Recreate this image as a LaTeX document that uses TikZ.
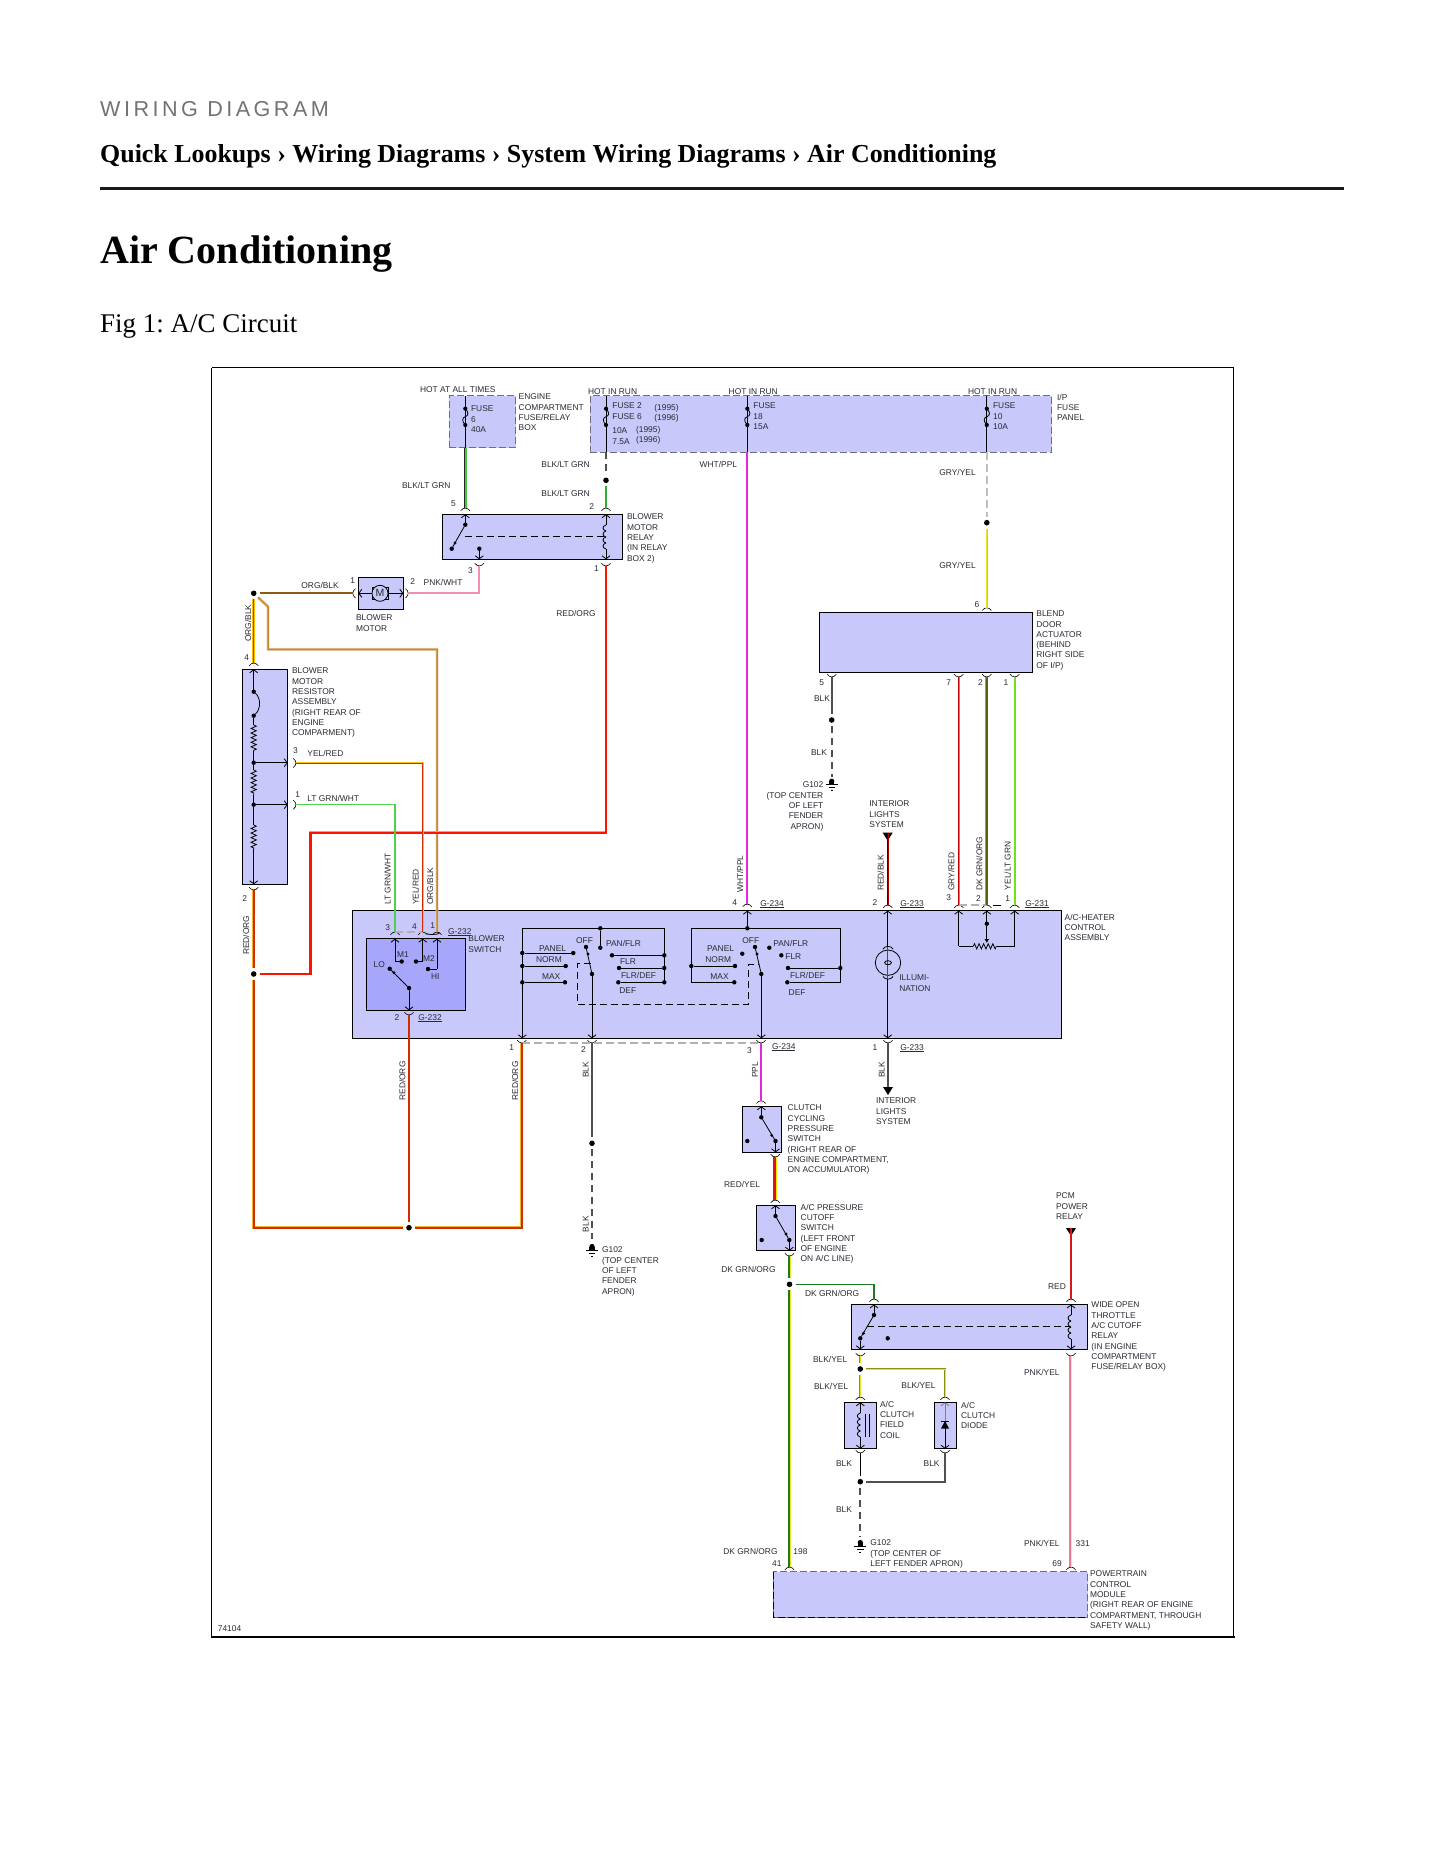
\documentclass[tikz,border=0pt]{standalone}
\usepackage{fontspec}
\setmainfont{Liberation Serif}
\newfontfamily\diagfont{Liberation Sans}
\newfontfamily\kickerfont[LetterSpace=16]{Liberation Sans}
\usetikzlibrary{arrows.meta,fit,decorations.pathmorphing}
\definecolor{boxblue}{HTML}{C8C8FA}
\definecolor{swblue}{HTML}{A6A6FA}
\definecolor{inkgray}{HTML}{2A2A33}
\definecolor{dashgray}{HTML}{6E6E80}
\definecolor{wblack}{HTML}{505050}
\definecolor{wgreen}{HTML}{3CCB3C}
\definecolor{wdkgrn}{HTML}{1E7A1E}
\definecolor{wred}{HTML}{D81818}
\definecolor{wredcore}{HTML}{D02C00}
\definecolor{worange}{HTML}{F4A830}
\definecolor{wbrown}{HTML}{8B5A14}
\definecolor{wtan}{HTML}{C8862C}
\definecolor{wpink}{HTML}{F090B0}
\definecolor{wmag}{HTML}{E028E0}
\definecolor{wyellow}{HTML}{E8E428}
\definecolor{wolive}{HTML}{5F5F14}
\definecolor{wlime}{HTML}{70E020}
\tikzset{
  lbl/.style={font=\diagfont\fontsize{8.4}{10.3}\selectfont, text=inkgray, align=left,
    inner sep=0pt, outer sep=0pt, anchor=north west, execute at begin node={\rule{0pt}{6pt}}},
  lblr/.style={font=\diagfont\fontsize{8.4}{10.3}\selectfont, text=inkgray,
    inner sep=0pt, outer sep=0pt, anchor=center, rotate=90},
  modbox/.style={draw=black, fill=boxblue, line width=.9pt, inner sep=0pt, outer sep=0pt},
  dashbox/.style={draw=dashgray, fill=boxblue, line width=1pt, inner sep=0pt, outer sep=0pt,
    dash pattern=on 7pt off 3pt},
  splice/.style={circle, fill=black, inner sep=0pt, minimum size=5.6pt, outer sep=3.2pt},
  cdot/.style={circle, fill=black, inner sep=0pt, minimum size=4.4pt, outer sep=0pt},
  markdot/.style={circle, fill=black, inner sep=0pt, minimum size=3.2pt, outer sep=0pt},
  thinw/.style={line width=.8pt, black},
  tip/.style={thinw, -{Straight Barb[length=3pt,width=8pt]}},
  lnk/.style={thinw, dash pattern=on 7pt off 4pt},
  blkdash/.style={wblack, line width=1.8pt, dash pattern=on 7pt off 5pt},
  graydash/.style={black!30, line width=1.1pt, dash pattern=on 8pt off 4pt},
  wblk/.style={wblack, line width=2.2pt},
  zig/.style={thinw, decorate, decoration={zigzag, amplitude=2.6pt, segment length=4.6pt}},
  pinarc/.pic={\draw[line width=.6pt, black] (-4.6,2.8) .. controls (-2,-.8) and (2,-.8) .. (4.6,2.8);},
  fuse/.pic={
    \fill (0,0) circle (2.1) (0,16.3) circle (2.1);
    \draw[thinw] (0,0) .. controls (4,4) and (3,7) .. (0,8) .. controls (-3,9) and (-4,12) .. (0,16.3);},
  coilv/.pic={
    \foreach \k in {0,1,2,3} {
      \draw[thinw] (0,\k*6) .. controls (-4,\k*6+1) and (-4,\k*6+5) .. (0,\k*6+6);
    }},
  gndsym/.pic={
    \fill (0,-1.5) circle (2.6);
    \fill (-2.6,-1.5) rectangle (2.6,1.5);
    \draw[thinw] (-6,2) -- (6,2) (-3.2,5) -- (3.2,5) (-1,8) -- (1,8);},
  wedge/.pic={\fill (-5,0) -- (5,0) -- (0,8) -- cycle;}
}
\newcommand{\wire}[4][]{\draw[line width=2.9pt, #2] #4; \draw[line width=1.5pt, #3, #1] #4;}
\newcommand{\wirethin}[3]{\draw[line width=2.2pt, #1] #3; \draw[line width=.9pt, #2] #3;}
\begin{document}
\frenchspacing
\begin{tikzpicture}[x=1pt, y=-1pt]
  \useasboundingbox (0,0) rectangle (1445,1870);
  \fill[white] (0,0) rectangle (1445,1870);

  \node[anchor=base west, inner sep=0pt, text=black!55] (kicker) at (100,117) {\kickerfont\fontsize{21.6}{24}\selectfont WIRING DIAGRAM};
  \node[anchor=base west, inner sep=0pt] (crumbs) at (100,162.5) {\fontsize{25.9}{30}\selectfont\bfseries Quick Lookups › Wiring Diagrams › System Wiring Diagrams › Air Conditioning};
  \coordinate (ruleL) at (100,188.5);
  \coordinate (ruleR) at (1344,188.5);
  \draw[line width=3.4pt, black!90] (ruleL) -- (ruleR);
  \node[anchor=base west, inner sep=0pt] (pagetitle) at (100,263.5) {\fontsize{40}{44}\selectfont\bfseries Air Conditioning};
  \node[anchor=base west, inner sep=0pt] (figcap) at (100,332.5) {\fontsize{27}{30}\selectfont Fig 1: A/C Circuit};

  \draw[line width=.9pt] (211.5,367.5) -- (1233.5,367.5) -- (1233.5,1636.7);
  \draw[line width=.9pt] (211.5,367.5) -- (211.5,1636.7);
  \draw[line width=2pt] (211,1636.7) -- (1234.5,1636.7);

  \node[dashbox, fit={(449.3,395.7) (515.7,447.7)}] (fbE) {};
  \node[dashbox, fit={(590.3,395.7) (1051.7,452.3)}] (fbI) {};
  \node[modbox, fit={(442.3,514.3) (622.3,559.3)}] (relay) {};
  \node[modbox, fit={(358.3,577.3) (403.3,609.3)}] (bmotor) {};
  \node[modbox, fit={(242.3,669.3) (287.7,884.3)}] (resist) {};
  \node[modbox, fit={(819.3,612.3) (1032.7,672.3)}] (blend) {};
  \node[modbox, fit={(352.7,910.7) (1061.3,1038.3)}] (ctl) {};
  \node[modbox, fill=swblue, fit={(366.7,938.7) (465.7,1010.3)}] (bsw) {};
  \node[modbox, fit={(742.3,1106.3) (781.7,1152.3)}] (clsw) {};
  \node[modbox, fit={(756.3,1205.3) (795.7,1250.7)}] (cosw) {};
  \node[modbox, fit={(851.3,1304.5) (1087.7,1349.3)}] (wot) {};
  \node[modbox, fit={(844.3,1402.3) (876.7,1448.7)}] (fcoil) {};
  \node[modbox, fit={(934.3,1402.3) (956.7,1448.7)}] (cdiode) {};
  \node[dashbox, fit={(773.7,1571.7) (1087.7,1617.3)}] (pcm) {};
  \draw[line width=.9pt, black, dash pattern=on 7pt off 3pt] (pcm.north west) -- (pcm.south west) -- (pcm.south east);

  \foreach \nm/\x/\y in {
    pRelayF/465.3/508, pRelayG/606/508, pRelayS/479.3/566, pRelayA/606/566,
    pBmL/352.7/593.3, pBmR/408.3/593.3,
    pResT/253.7/663, pResB/253.7/890, pResM/296/763, pResL/296/804.7,
    pSwL/395/932, pSwM/422.7/932, pSwO/437/932, pSwB/409/1015,
    pCtlP/747.3/904, pCtlI/887.7/905, pPotL/958.7/905, pPotM/986.8/905, pPotR/1014.7/905,
    pBlT/986.8/607.7, pBlK/831.7/677, pBlL/958.7/677, pBlM/986.8/677, pBlR/1014.7/677,
    pOutA/521.7/1043, pOutB/592/1043, pOutC/761/1043, pOutD/888/1043,
    pClT/761/1100.7, pClB/775.3/1157, pCoT/775.3/1200, pCoB/789.5/1256,
    pWotA/874/1299, pWotB/1071/1299, pWotC/860.3/1356, pWotD/1071/1356,
    pFcT/860.3/1397, pFcB/860.3/1453, pDiT/945/1397, pDiB/945/1453,
    pPcmA/789.5/1567, pPcmB/1071/1567,
    fuseY/0/408.7, cObA/268/606.7, cObB/268/649.3, cRoA/310.5/832.7,
    gndA/831.7/782.7, gndB/592/1248, gndC/860.3/1544,
    wedgeA/887.7/832.7, wedgeB/888/1087, wedgeC/1071/1228
  } {
    \coordinate (\nm) at (\x,\y);
  }

  \foreach \nm/\x/\y in {
    sRelay/606/480.3, sGry/986.8/522.7, sOrg/253.7/593.3, sRoA/253.7/974, sRoB/409/1227.7,
    sBlkA/831.7/720, sBlkB/592/1143.3, sDkg/789.5/1284.3, sByl/860.3/1369, sBlkC/860.3/1481.7
  } {
    \node[splice] (\nm) at (\x,\y) {};
  }

  \foreach \p in {pRelayF, pRelayG, pCtlP, pCtlI, pPotL, pPotM, pPotR, pBlT, pSwL, pSwM, pSwO,
    pResT, pClT, pCoT, pWotA, pWotB, pFcT, pDiT, pPcmA, pPcmB} {
    \pic at (\p) {pinarc};
  }
  \foreach \p in {pRelayS, pRelayA, pBlK, pBlL, pBlM, pBlR, pSwB, pOutA, pOutB, pOutC, pOutD,
    pResB, pClB, pCoB, pWotC, pWotD, pFcB, pDiB} {
    \pic[rotate=180] at (\p) {pinarc};
  }
  \pic[rotate=90] at (pBmL) {pinarc};
  \pic[rotate=-90] at (pBmR) {pinarc};
  \pic[rotate=-90] at (pResM) {pinarc};
  \pic[rotate=-90] at (pResL) {pinarc};

  \draw[graydash] (pSwL) -- (pSwM);
  \draw[graydash] (pOutA) -- (pOutC);
  \draw[graydash] (pPotL) -- (pPotM);
  \draw[thinw] (pPotM) ++(6,0) -- ++(8,0);
  \draw[thinw] (pSwM) ++(4,1.5) .. controls ++(2,2) and ++(8,2) .. (pSwO);

  \foreach \p/\b in {pRelayF/fbE, pRelayG/fbI, pCtlP/fbI, pBlT/fbI} {
    \draw[thinw, line width=1pt] (\p |- \b.north) -- (\p |- \b.south);
    \pic at (\p |- fuseY) {fuse};
  }

  \wire[transform canvas={xshift=-.7pt}]{wgreen}{black!85}{(pRelayF |- fbE.south) -- (pRelayF)}
  \draw[blkdash] (pRelayG |- fbI.south) -- (sRelay);
  \draw[wgreen!85!black, line width=1.8pt] (sRelay) -- (pRelayG);
  \draw[wmag, line width=1.8pt] (pCtlP |- fbI.south) -- (pCtlP);
  \draw[black!25, line width=2pt, dash pattern=on 8pt off 4pt] (pBlT |- fbI.south) -- (sGry);
  \wirethin{wyellow!90!black}{wyellow}{(sGry) -- (pBlT)}

  \draw[wbrown, line width=1.7pt] (sOrg) -- (pBmL);
  \wire{orange!50!yellow}{wbrown}{(sOrg) -- (pResT)}
  \wire{wtan!40!white}{wtan}{(sOrg) -- (cObA) -- (cObB) -| (pSwO)}
  \draw[wpink, line width=1.8pt] (pBmR) -| (pRelayS);
  \wire[line width=2.1pt]{worange}{red!85!orange}{(sRoA) -| (cRoA) -| (pRelayA)}
  \wire[line width=1.9pt]{worange!85!yellow}{wredcore}{(pResB) -- (sRoA)}
  \wire[line width=1.9pt]{worange!85!yellow}{wredcore}{(sRoA) |- (sRoB)}
  \wire[line width=1.9pt]{worange!85!yellow}{wredcore}{(sRoB) -| (pOutA)}
  \draw[wredcore, line width=2pt] (pSwB) -- (sRoB);
  \wirethin{orange!50!yellow}{wredcore}{(pResM) -| (pSwM)}
  \draw[wgreen!90!white, line width=1.5pt] (pResL) -| (pSwL);

  \draw[wblk] (pBlK) -- (sBlkA);
  \draw[blkdash, shorten >=6pt] (sBlkA) -- (gndA);
  \wirethin{wpink!70!red}{red!75!black}{(pBlL) -- (pPotL)}
  \wire{wyellow!50!wolive}{wolive}{(pBlM) -- (pPotM)}
  \draw[wlime, line width=2.2pt] (pBlR) -- (pPotR);

  \pic at (wedgeA) {wedge};
  \wirethin{red!70!black}{black!70!red}{(wedgeA) -- (pCtlI)}
  \draw[wblk] (pOutB) -- (sBlkB);
  \draw[blkdash, shorten >=9pt] (sBlkB) -- (gndB);
  \draw[wmag, line width=2.6pt] (pOutC) -- (pClT);
  \draw[wblk] (pOutD) -- (wedgeB);
  \pic at (wedgeB) {wedge};

  \wire[transform canvas={xshift=-.7pt},line width=2.4pt]{yellow!90!orange}{wred}{(pClB) -- (pCoT)}
  \wire[transform canvas={xshift=-.5pt}]{wyellow}{wdkgrn}{(pCoB) -- (sDkg)}
  \wire[transform canvas={xshift=-.5pt}]{wyellow}{wdkgrn}{(sDkg) -- (pPcmA)}
  \draw[wdkgrn, line width=1.4pt] (sDkg) -| (pWotA);
  \pic at (wedgeC) {wedge};
  \draw[wred, line width=2.6pt] (wedgeC) -- (pWotB);
  \wire[transform canvas={xshift=-.8pt},line width=2.2pt]{yellow!70!white}{wpink!85!red}{(pWotD) -- (pPcmB)}
  \wirethin{wolive!70!yellow}{wyellow}{(pWotC) -- (sByl)}
  \wirethin{wolive!70!yellow}{wyellow}{(sByl) -- (pFcT)}
  \wirethin{wolive!70!yellow}{wyellow}{(sByl) -| (pDiT)}
  \draw[thinw] (pFcB) -- (sBlkC);
  \draw[wblk] (pDiB) |- (sBlkC);
  \draw[blkdash, shorten >=7pt] (sBlkC) -- (gndC);

  \foreach \g in {gndA, gndB, gndC} {
    \pic at (\g) {gndsym};
  }

  \foreach \nm/\x/\y in {
    dRelayA/465.3/524.7, dRelayB/451.7/548.7, dRelayS/479.3/548.7,
    dFusA/253.7/691.7, dFusB/253.7/715.7, dTapA/253.7/762.7, dTapB/253.7/804.7,
    dSwA/401.7/961.5, dSwB/416/961.5, dSwC/428/969, dSwD/389.7/968.7, dSwE/409/988,
    dCtlT/600.3/928.3, dPanA/600.3/947.7, dPanL/522.3/953, dPanE/573.3/953,
    dNorL/522.3/966, dNorE/565.7/966, dMaxL/522.3/982.3, dMaxE/565/982.3,
    dFlrE/612/955.3, dFlrR/664.3/955.3, dFldE/619/968, dFldR/664.3/968, dDefE/618.3/982.3, dDefR/664.3/982.3,
    dOffA/586/947, dComA/592/974,
    dCtmT/747.3/928.3, dNrmL/691.3/966, dNrmE/735/966, dMxmE/734.3/982.3, dPnlB/742.3/953.7, dPnfB/769.3/947.7,
    dFlrB/781.3/955.3, dFdsE/788/968, dFdsR/840.3/968, dDfbE/787.3/982.3,
    dOffB/755/947, dComB/761.3/974, dPotM/986.8/923.7,
    dClA/761.3/1117.3, dClB/775.5/1141, dClN/747.3/1141,
    dCoA/775.5/1216, dCoB/789.3/1240, dCoN/761.7/1240,
    dWotA/874/1315, dWotB/860.3/1338.3, dWotN/887.7/1338.3
  } {
    \node[cdot] (\nm) at (\x,\y) {};
  }
  \foreach \nm/\x/\y in {
    dRelayM/455/543, dSwM/394/972.7, dMkA/588/954, dMkB/757/954,
    dClM/771.7/1135.3, dCoM/786/1234, dWotM/863.5/1333.3
  } {
    \node[markdot] (\nm) at (\x,\y) {};
  }

  \foreach \a/\b in {dRelayA/dRelayB, dSwD/dSwE, dCtlT/dPanA, dPanL/dPanE, dNorL/dNorE,
    dMaxL/dMaxE, dFlrE/dFlrR, dFldE/dFldR, dDefE/dDefR, dOffA/dComA, dNrmL/dNrmE, dFdsE/dFdsR,
    dOffB/dComB, dClA/dClB, dCoA/dCoB, dWotA/dWotB} {
    \draw[thinw] (\a) -- (\b);
  }

  \draw[tip] (dRelayA) -- (dRelayA |- relay.north);
  \draw[tip] (dRelayS) -- (dRelayS |- relay.south);
  \draw[lnk] (dRelayA |- 0,536.7) -- (pRelayG |- 0,536.7);
  \draw[tip] (pRelayG |- 0,525) -- (pRelayG |- relay.north);
  \draw[tip] (pRelayG |- 0,549) -- (pRelayG |- relay.south);
  \pic at (pRelayG |- 0,525) {coilv};

  \draw[thinw] (372,587.3) rectangle (376,599.3);
  \draw[thinw] (384,587.3) rectangle (388,599.3);
  \node[thinw, draw, circle, fill=boxblue, inner sep=0pt, minimum size=16pt,
    font=\diagfont\fontsize{10.5}{10.5}\selectfont, text=inkgray] (bmM) at (380,593.3) {M};
  \draw[tip] (372,593.3) -- (bmotor.west);
  \draw[tip] (388,593.3) -- (bmotor.east);

  \draw[tip] (dFusA) -- (dFusA |- resist.north);
  \draw[thinw] (dFusA) .. controls (261,698) and (261,709) .. (dFusB);
  \draw[zig] (dFusB |- 0,725) -- (dFusB |- 0,751);
  \draw[thinw] (dFusB) -- (dFusB |- 0,725);
  \draw[thinw] (dTapA) -- (dTapA |- 0,751);
  \draw[zig] (dTapA |- 0,770) -- (dTapA |- 0,795);
  \draw[thinw] (dTapA) -- (dTapA |- 0,770);
  \draw[thinw] (dTapB) -- (dTapB |- 0,795);
  \draw[zig] (dTapB |- 0,825) -- (dTapB |- 0,849);
  \draw[thinw] (dTapB) -- (dTapB |- 0,825);
  \draw[tip] (dTapB |- 0,849) -- (dTapB |- resist.south);
  \draw[tip] (dTapA) -- (resist.east |- dTapA);
  \draw[tip] (dTapB) -- (resist.east |- dTapB);

  \draw[tip] (pSwL |- dSwA) -- (pSwL |- bsw.north);
  \draw[thinw] (dSwA) -- (pSwL |- dSwA);
  \draw[tip] (pSwM |- dSwB) -- (pSwM |- bsw.north);
  \draw[thinw] (dSwB) -- (pSwM |- dSwB);
  \draw[tip] (pSwO |- dSwC) -- (pSwO |- bsw.north);
  \draw[thinw] (dSwC) -- (pSwO |- dSwC);
  \draw[tip] (dSwE) -- (dSwE |- bsw.south);

  \draw[tip] (dDefR) -- (dDefR |- dCtlT) -- (dMaxL |- dCtlT) -- (dMaxL |- ctl.south);
  \draw[tip] (dComA) -- (dComA |- ctl.south);
  \coordinate (lkA) at (590.7,963.3);
  \coordinate (lkB) at (577.3,1004.3);
  \coordinate (lkC) at (748.3,964.3);
  \coordinate (lkD) at (758,964.3);
  \draw[lnk] (lkA) -| (lkB) -| (lkC) -- (lkD);
  \draw[thinw] (dMxmE) -- (dNrmL |- dMxmE) -- (dNrmL |- dCtmT) -- (dFdsR |- dCtmT) -- (dFdsR |- dDfbE) -- (dDfbE);
  \draw[tip] (dComB) -- (dComB |- ctl.south);
  \draw[tip] (dCtmT) -- (dCtmT |- ctl.north);

  \draw[tip] (pCtlI |- 0,946.7) -- (pCtlI |- ctl.north);
  \draw[tip] (pCtlI |- 0,979) -- (pCtlI |- ctl.south);
  \node[thinw, draw, circle, inner sep=0pt, minimum size=25.4pt] (bulb) at (888,962.7) {};
  \draw[thinw] (883,949) .. controls (885,945.5) and (891,945.5) .. (893,949);
  \draw[thinw] (883,976.5) .. controls (885,980) and (891,980) .. (893,976.5);
  \draw[thinw, black!70] (pCtlI |- 0,946.7) -- (pCtlI |- 0,979);
  \draw[thinw] (bulb.center) ellipse (3.4 and 2);

  \draw[tip] (pPotL |- 0,946.3) -- (pPotL |- ctl.north);
  \draw[tip] (pPotR |- 0,946.3) -- (pPotR |- ctl.north);
  \draw[thinw] (pPotL |- 0,946.3) -- (973.3,946.3);
  \draw[thinw] (996.7,946.3) -- (pPotR |- 0,946.3);
  \draw[zig] (973.3,946.3) -- (996.7,946.3);
  \draw[tip] (dPotM) -- (dPotM |- ctl.north);
  \draw[thinw, -{Latex[length=4pt,width=5pt]}] (dPotM) -- (dPotM |- 0,943);

  \draw[tip] (dClA) -- (dClA |- clsw.north);
  \draw[tip] (dClB) -- (dClB |- clsw.south);
  \draw[tip] (dCoA) -- (dCoA |- cosw.north);
  \draw[tip] (dCoB) -- (dCoB |- cosw.south);

  \draw[tip] (dWotA) -- (dWotA |- wot.north);
  \draw[tip] (dWotB) -- (dWotB |- wot.south);
  \draw[lnk] (866.7,1326.3) -- (pWotB |- 0,1326.3);
  \draw[tip] (pWotB |- 0,1315) -- (pWotB |- wot.north);
  \draw[tip] (pWotB |- 0,1339) -- (pWotB |- wot.south);
  \pic at (pWotB |- 0,1315) {coilv};

  \draw[tip] (pFcT |- 0,1413) -- (pFcT |- fcoil.north);
  \draw[tip] (pFcT |- 0,1437) -- (pFcT |- fcoil.south);
  \pic at (pFcT |- 0,1413) {coilv};
  \draw[thinw] (865.7,1414) -- (865.7,1437) (869.7,1414) -- (869.7,1437);
  \draw[tip, black!50] (pDiT |- 0,1422) -- (pDiT |- cdiode.north);
  \draw[tip] (pDiT |- 0,1428) -- (pDiT |- cdiode.south);
  \fill (pDiT |- 0,1421) -- ++(4,7.5) -- ++(-8,0) -- cycle;
  \draw[thinw] (941,1421) -- (949,1421);

  \foreach \x/\y/\txt [count=\i] in {
    419.7/389/{HOT AT ALL TIMES}, 518.3/397/{ENGINE\\COMPARTMENT\\FUSE/RELAY\\BOX},
    470.7/409/{FUSE\\6\\40A}, 587.7/391/{HOT IN RUN}, 612/406/{FUSE 2\\FUSE 6},
    654/407/{(1995)\\(1996)}, 612/431/{10A\\7.5A}, 635.7/429/{(1995)\\(1996)},
    728.3/391/{HOT IN RUN}, 753/406/{FUSE\\18\\15A}, 967.7/391/{HOT IN RUN},
    992.7/406/{FUSE\\10\\10A}, 1056.7/397/{I/P\\FUSE\\PANEL},
    541/464/{BLK/LT GRN}, 541/493/{BLK/LT GRN}, 401.7/485/{BLK/LT GRN}, 699.3/464/{WHT/PPL},
    939/472/{GRY/YEL}, 939/565/{GRY/YEL}, 974.3/604/{6},
    450.7/503/{5}, 589/506.3/{2}, 626.7/517/{BLOWER\\MOTOR\\RELAY\\(IN RELAY\\BOX 2)},
    467.7/570/{3}, 593.7/568/{1}, 301/585/{ORG/BLK}, 350/580/{1}, 410/581.7/{2},
    423.3/582.7/{PNK/WHT}, 355.7/618/{BLOWER\\MOTOR}, 556/613/{RED/ORG}, 244/657.3/{4},
    1036/614/{BLEND\\DOOR\\ACTUATOR\\(BEHIND\\RIGHT SIDE\\OF I/P)},
    291.7/671/{BLOWER\\MOTOR\\RESISTOR\\ASSEMBLY\\(RIGHT REAR OF\\ENGINE\\COMPARMENT)},
    292.7/750/{3}, 295/794/{1}, 307/753/{YEL/RED}, 307/798/{LT GRN/WHT}, 242/898/{2},
    819/682.3/{5}, 813.7/698/{BLK}, 810.7/752/{BLK}, 946/682.7/{7}, 977.7/682.7/{2}, 1003.3/682.7/{1},
    869/804/{INTERIOR\\LIGHTS\\SYSTEM},
    732/902/{4}, 760/903/{\underline{G-234}}, 872.3/902.3/{2}, 900/903/{\underline{G-233}},
    946/897/{3}, 975.7/898/{2}, 1005/898.7/{1}, 1025/903/{\underline{G-231}},
    1064.3/917/{A/C-HEATER\\CONTROL\\ASSEMBLY},
    385/927/{3}, 411.7/926/{4}, 430/925/{1}, 447.7/931/{\underline{G-232}}, 468/939/{BLOWER\\SWITCH},
    396.7/954/{M1}, 422.7/958/{M2}, 373.3/964/{LO}, 430.7/976/{HI},
    394.3/1017/{2}, 418/1017/{\underline{G-232}},
    575.7/940.3/{OFF}, 605.7/943/{PAN/FLR}, 538.7/948/{PANEL}, 535.7/959/{NORM}, 541.7/976/{MAX},
    619.7/961/{FLR}, 620.7/975/{FLR/DEF}, 619/990/{DEF},
    742/940.3/{OFF}, 773/943/{PAN/FLR}, 706.7/948/{PANEL}, 705/959/{NORM}, 710/976/{MAX},
    785/956/{FLR}, 789.7/975/{FLR/DEF}, 788.3/992/{DEF}, 899/978/{ILLUMI-\\NATION},
    509/1047.3/{1}, 580.7/1049/{2}, 746.7/1050/{3}, 771.7/1046/{\underline{G-234}},
    872.3/1047.3/{1}, 900/1047/{\underline{G-233}},
    601.7/1250/{G102\\(TOP CENTER\\OF LEFT\\FENDER\\APRON)},
    875.7/1101/{INTERIOR\\LIGHTS\\SYSTEM},
    787.3/1108/{CLUTCH\\CYCLING\\PRESSURE\\SWITCH\\(RIGHT REAR OF\\ENGINE COMPARTMENT,\\ON ACCUMULATOR)},
    723.7/1184/{RED/YEL}, 800.3/1207/{A/C PRESSURE\\CUTOFF\\SWITCH\\(LEFT FRONT\\OF ENGINE\\ON A/C LINE)},
    721/1269/{DK GRN/ORG}, 804.7/1293/{DK GRN/ORG}, 1055.7/1196/{PCM\\POWER\\RELAY}, 1047.7/1286/{RED},
    1091/1305/{WIDE OPEN\\THROTTLE\\A/C CUTOFF\\RELAY\\(IN ENGINE\\COMPARTMENT\\FUSE/RELAY BOX)},
    812.7/1359/{BLK/YEL}, 813.7/1386/{BLK/YEL}, 901/1385/{BLK/YEL}, 1023.7/1372/{PNK/YEL},
    879.7/1404/{A/C\\CLUTCH\\FIELD\\COIL}, 960.7/1405/{A/C\\CLUTCH\\DIODE},
    835.7/1463/{BLK}, 923.3/1463/{BLK}, 835.7/1509/{BLK},
    870/1543/{G102\\(TOP CENTER OF\\LEFT FENDER APRON)}, 1023.7/1543/{PNK/YEL}, 1075.3/1543/{331},
    723/1551/{DK GRN/ORG}, 793/1551/{198}, 771.7/1563/{41}, 1052/1563/{69},
    1089.7/1574/{POWERTRAIN\\CONTROL\\MODULE\\(RIGHT REAR OF ENGINE\\COMPARTMENT, THROUGH\\SAFETY WALL)},
    217.5/1628/{74104}
  } {
    \node[lbl] (t\i) at (\x+.4,\y-3) {\txt};
  }
  \node[lbl, align=right, anchor=north east] (tGnd) at (823.3,782) {G102\\(TOP CENTER\\OF LEFT\\FENDER\\APRON)};

  \foreach \x/\y/\txt [count=\i] in {
    248/623.3/{ORG/BLK}, 246/935.3/{RED/ORG}, 387.7/879/{LT GRN/WHT}, 415.7/887/{YEL/RED}, 430/886.3/{ORG/BLK},
    740/874/{WHT/PPL}, 880.7/872.8/{RED/BLK}, 951.3/871.7/{GRY/RED}, 979.3/863.7/{DK GRN/ORG}, 1007.7/866/{YEL/LT GRN},
    402.3/1081/{RED/ORG}, 515/1081/{RED/ORG}, 585.7/1070/{BLK}, 585.7/1224.3/{BLK}, 755/1070/{PPL}, 881.7/1070/{BLK}
  } {
    \node[lblr] (r\i) at (\x,\y) {\txt};
  }
\end{tikzpicture}
\end{document}
